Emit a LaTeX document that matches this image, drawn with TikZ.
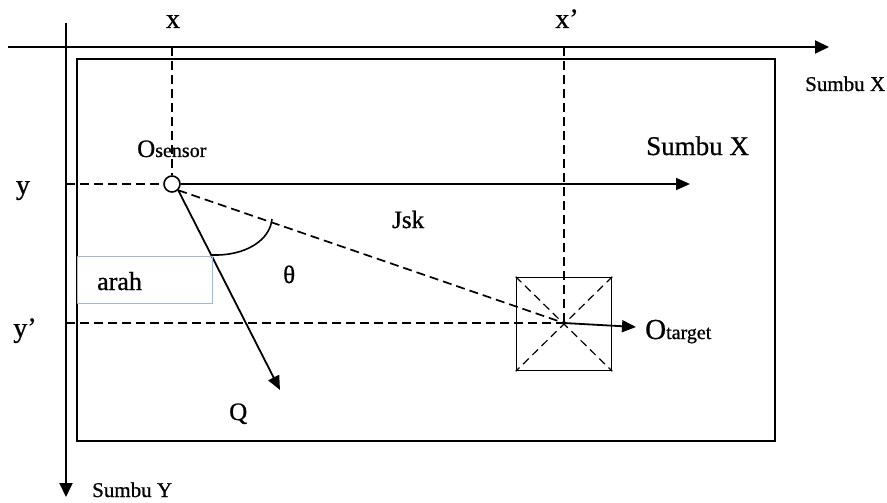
\documentclass[tikz,border=0pt]{standalone}
\usepackage{fontspec}
\setmainfont{Liberation Serif}[RawFeature={embolden=0.8}]
\usetikzlibrary{arrows.meta}
\newcommand{\fs}[1]{\fontsize{#1}{#1}\selectfont}
\begin{document}
\begin{tikzpicture}[x=1pt,y=-1pt,
  axis/.style={line width=2pt,-{Triangle[length=14pt,width=13pt]}},
  vec/.style={line width=1.8pt,-{Triangle[length=14pt,width=12pt]}},
  frame/.style={line width=2pt},
  dsh/.style={line width=1.7pt,dash pattern=on 9pt off 5pt},
  thin dsh/.style={line width=1.2pt,dash pattern=on 8pt off 5pt},
  lbl/.style={inner sep=0pt,anchor=base west},
  clbl/.style={inner sep=0pt,anchor=base},
]
\useasboundingbox (0,0) rectangle (887,503);
\definecolor{boxblue}{RGB}{165,185,212}

% axes
\coordinate (xs) at (8,47);
\coordinate (xe) at (829,47);
\coordinate (ys) at (66,23);
\coordinate (ye) at (66,497);
\draw[axis] (xs) -- (xe);
\draw[axis] (ys) -- (ye);

% frame
\draw[frame] (77,59) rectangle (775,441);

% key points
\coordinate (xtop) at (172,47);
\coordinate (xptop) at (564,47);
\coordinate (yleft) at (66,184);
\coordinate (ypleft) at (66,323);
\node[draw,circle,line width=1.6pt,minimum size=16pt,inner sep=0pt] (S) at (172,184) {};
\coordinate (T) at (564,323);
\node[draw,line width=1.7pt,minimum width=95pt,minimum height=93pt,inner sep=0pt] (box) at (564,324) {};
\coordinate (sx) at (690,184);
\coordinate (q) at (280,390);
\coordinate (tt) at (636,327);

% projection lines
\draw[dsh] (xtop) -- (S.north);
\draw[dsh] (yleft) -- (S.west);
\draw[dsh] (xptop) -- (T);
\draw[dsh] (ypleft) -- (T);
\draw[dsh] (S.south east) -- (T);

% box diagonals
\draw[thin dsh] (box.north west) -- (box.south east);
\draw[thin dsh] (box.north east) -- (box.south west);

% vectors
\draw[vec] (S.east) -- (sx);
\draw[vec] (S.south east) -- (q);
\draw[vec] (T) -- (tt);

% angle arc
\draw[line width=1.6pt] (212,255) .. controls (246,256) and (270,240) .. (272,219);

% arah box
\draw[boxblue,line width=0.9pt] (77,256) rectangle (212,303);

% labels
\node[clbl] (lx) at (173,28) {\fs{28}x};
\node[clbl] (lxp) at (567,28) {\fs{28}x’};
\node[clbl] (ly) at (23,194) {\fs{28}y};
\node[clbl] (lyp) at (25,337) {\fs{28}y’};
\node[lbl] (los) at (137,157) {\fs{25}O\fs{20}sensor};
\node[lbl] (lsx) at (646,155) {\fs{27}Sumbu X};
\node[lbl] (lsx2) at (805,91) {\fs{21}Sumbu X};
\node[lbl] (ljsk) at (392,228) {\fs{25}Jsk};
\node[lbl] (lth) at (283,283) {\fs{25}θ};
\node[lbl] (larah) at (97,290) {\fs{26}arah};
\node[lbl] (lq) at (229,420) {\fs{25}Q};
\node[lbl] (lot) at (645,339) {\fs{29}O\fs{20}target};
\node[lbl] (lsy) at (92,497) {\fs{21}Sumbu Y};
\end{tikzpicture}
\end{document}
